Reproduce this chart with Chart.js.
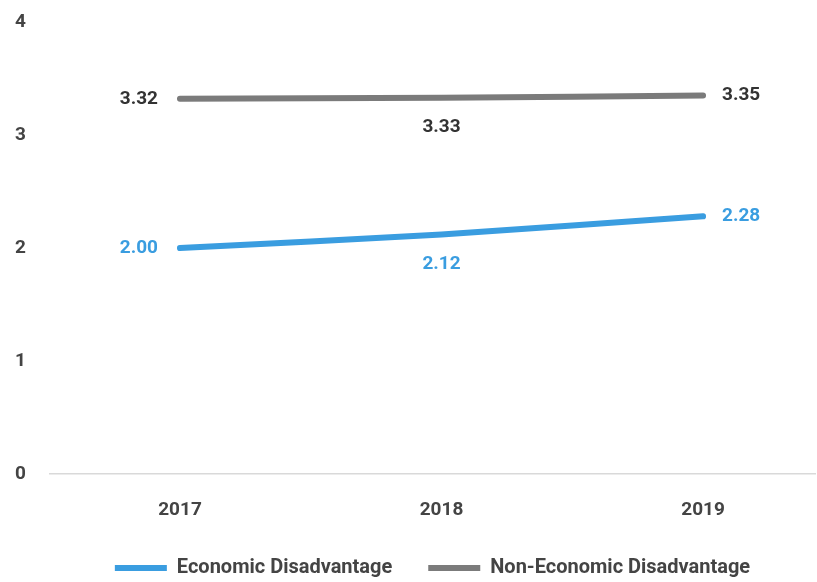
<!DOCTYPE html>
<html>
<head>
<meta charset="utf-8">
<script src="https://cdn.jsdelivr.net/npm/chart.js@4/dist/chart.umd.min.js"></script>
<style>
  html, body { margin: 0; padding: 0; background: #fff; }
  #wrap { width: 817px; height: 582px; }
</style>
</head>
<body>
<div id="wrap"><canvas id="chart" width="817" height="582"></canvas></div>
<script>
// data
const years = [2017, 2018, 2019];
const economic = [2.00, 2.12, 2.28];
const nonEconomic = [3.32, 3.33, 3.35];
const yTicks = [0, 1, 2, 3, 4];

const FONT = 'Roboto, "Liberation Sans", sans-serif';
const BLUE = '#3a9de0';
const GREY = '#7b7b7b';

// value labels next to each point: left of first, below middle, right of last
const valueLabels = {
  id: 'valueLabels',
  afterDatasetsDraw(chart) {
    const ctx = chart.ctx;
    ctx.save();
    ctx.font = 'bold 19px ' + FONT;
    ctx.textBaseline = 'middle';
    chart.data.datasets.forEach((ds, di) => {
      const meta = chart.getDatasetMeta(di);
      meta.data.forEach((pt, i) => {
        const txt = ds.data[i].y.toFixed(2);
        ctx.fillStyle = ds.labelColor;
        if (i === 0) {
          ctx.textAlign = 'right';
          ctx.fillText(txt, pt.x - 22, pt.y);
        } else if (i === meta.data.length - 1) {
          ctx.textAlign = 'left';
          ctx.fillText(txt, pt.x + 19, pt.y);
        } else {
          ctx.textAlign = 'center';
          ctx.fillText(txt, pt.x, pt.y + 30);
        }
      });
    });
    ctx.restore();
  }
};

new Chart(document.getElementById('chart'), {
  type: 'line',
  data: {
    datasets: [
      {
        label: 'Economic Disadvantage',
        data: years.map((x, i) => ({ x: x, y: economic[i] })),
        borderColor: BLUE,
        backgroundColor: BLUE,
        labelColor: BLUE,
        borderWidth: 6,
        borderCapStyle: 'round',
        pointRadius: 0,
        tension: 0.25
      },
      {
        label: 'Non-Economic Disadvantage',
        data: years.map((x, i) => ({ x: x, y: nonEconomic[i] })),
        borderColor: GREY,
        backgroundColor: GREY,
        labelColor: '#333',
        borderWidth: 6,
        borderCapStyle: 'round',
        pointRadius: 0,
        tension: 0.25
      }
    ]
  },
  options: {
    responsive: false,
    animation: false,
    layout: { padding: { top: 22, right: 2, left: 15, bottom: 0 } },
    scales: {
      x: {
        type: 'linear',
        min: 2016.503,
        max: 2019.428,
        afterBuildTicks: (scale) => { scale.ticks = years.map(v => ({ value: v })); },
        afterFit: (scale) => { scale.height = 48; },
        grid: { display: false },
        border: { display: true, color: '#d9d9d9', width: 1.5 },
        ticks: {
          padding: 17,
          color: '#444',
          font: { family: FONT, size: 19, weight: 'bold' },
          callback: (v) => String(v)
        }
      },
      y: {
        min: 0,
        max: 4,
        afterBuildTicks: (scale) => { scale.ticks = yTicks.map(v => ({ value: v })); },
        afterFit: (scale) => { scale.width = 35; },
        grid: { display: false, drawTicks: false },
        border: { display: false },
        ticks: {
          padding: 0,
          crossAlign: 'far',
          color: '#444',
          font: { family: FONT, size: 19, weight: 'bold' }
        }
      }
    },
    plugins: {
      tooltip: { enabled: false },
      legend: {
        position: 'bottom',
        fullSize: false,
        maxHeight: 60,
        labels: {
          usePointStyle: true,
          pointStyle: 'line',
          pointStyleWidth: 52,
          padding: 36,
          color: '#444',
          font: { family: FONT, size: 20, weight: 'bold' }
        }
      }
    }
  },
  plugins: [valueLabels]
});
</script>
</body>
</html>
